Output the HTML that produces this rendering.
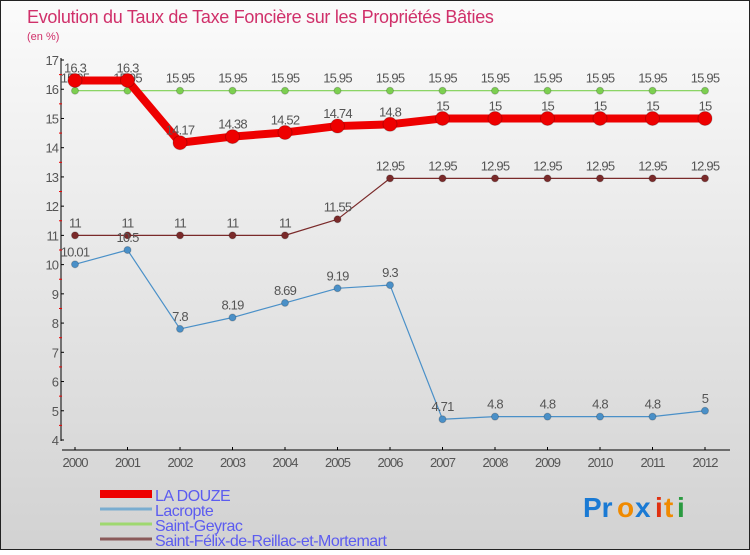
<!DOCTYPE html>
<html><head><meta charset="utf-8"><style>
html,body{margin:0;padding:0}
body{width:750px;height:550px;overflow:hidden;font-family:"Liberation Sans",sans-serif}
</style></head><body>
<svg id="chart" width="750" height="550" xmlns="http://www.w3.org/2000/svg">
<defs><linearGradient id="bg" x1="0" y1="0" x2="0" y2="1"><stop offset="0" stop-color="#fbfbfb"/><stop offset="1" stop-color="#d2d2d2"/></linearGradient></defs>
<rect x="0.5" y="0.5" width="749" height="549" fill="url(#bg)" stroke="#222"/>
<text x="27" y="23" font-size="18" fill="#d0306a" letter-spacing="-0.3">Evolution du Taux de Taxe Foncière sur les Propriétés Bâties</text>
<text x="27" y="40" font-size="11" fill="#d0306a">(en %)</text>
<g id="axes"></g><g id="series"></g><g id="legend"></g>
<g font-size="28" font-weight="bold" font-family="Liberation Sans, sans-serif">
<text x="583" y="517" fill="#1a7ad4">Pr</text><text x="617" y="517" fill="#f08a00">o</text><text x="635" y="517" fill="#1a7ad4">x</text><text x="655" y="517" fill="#e03010">i</text><text x="664" y="517" fill="#f08a00">t</text><text x="677" y="517" fill="#2a9a40">i</text>
</g>
</svg>
<script>
const years=[2000,2001,2002,2003,2004,2005,2006,2007,2008,2009,2010,2011,2012];
const laDouze=[16.3,16.3,14.17,14.38,14.52,14.74,14.8,15,15,15,15,15,15];
const lacropte=[10.01,10.5,7.8,8.19,8.69,9.19,9.3,4.71,4.8,4.8,4.8,4.8,5];
const saintGeyrac=[15.95,15.95,15.95,15.95,15.95,15.95,15.95,15.95,15.95,15.95,15.95,15.95,15.95];
const saintFelix=[11,11,11,11,11,11.55,12.95,12.95,12.95,12.95,12.95,12.95,12.95];
const yTicks=[4,5,6,7,8,9,10,11,12,13,14,15,16,17];
const seriesNames=["LA DOUZE","Lacropte","Saint-Geyrac","Saint-Félix-de-Reillac-et-Mortemart"];
const NS="http://www.w3.org/2000/svg";
const x=i=>75+i*52.5;
const y=v=>440-(v-4)*(380/13);
function mk(tag,attrs,parent,txt){const e=document.createElementNS(NS,tag);for(const k in attrs)e.setAttribute(k,attrs[k]);if(txt!==undefined)e.textContent=txt;parent.appendChild(e);return e;}
const axes=document.getElementById('axes');
let a=mk('line',{x1:61,y1:58,x2:61,y2:441,stroke:'#000','stroke-width':1},axes);


a=mk('line',{x1:62,y1:450,x2:730,y2:450,stroke:'#000','stroke-width':1},axes);


yTicks.forEach(t=>{
  mk('line',{x1:61,y1:y(t),x2:64,y2:y(t),stroke:'#000'},axes);
  if(t<17)mk('line',{x1:59,y1:y(t+0.5),x2:62,y2:y(t+0.5),stroke:'#e00'},axes);
  const l=mk('text',{x:58,y:y(t)+5,'font-size':13,fill:'#555','text-anchor':'end','letter-spacing':'-1'},axes,t);
  
  
});
years.forEach((yr,i)=>{
  mk('line',{x1:x(i),y1:447,x2:x(i),y2:450,stroke:'#000'},axes);
  const l=mk('text',{x:x(i),y:467,'font-size':13,fill:'#555','text-anchor':'middle','letter-spacing':'-1'},axes,yr);
  
  
});
const sg=document.getElementById('series');
function draw(vals,name,color,w,r){
  const g=mk('g',{},sg);
  
  
  mk('polyline',{points:vals.map((v,i)=>x(i)+','+y(v)).join(' '),fill:'none',stroke:color,'stroke-width':w,'stroke-linejoin':'round'},g);
  vals.forEach((v,i)=>{
    const c=mk('circle',{cx:x(i),cy:y(v),r:r,fill:color,stroke:'#0003'},g);
    
    
    const t=mk('text',{x:x(i),y:y(v)-8,'font-size':13,fill:'#555','text-anchor':'middle','letter-spacing':'-0.8'},g,String(v));
    
    
  });
}
draw(saintFelix,'series-saint-felix','#7a2a2a',1.2,3.5);
draw(lacropte,'series-lacropte','#4a90c8',1.2,3.5);
draw(saintGeyrac,'series-saint-geyrac','#7ccf50',1.2,3.5);
draw(laDouze,'series-la-douze','#ee0000',8,7);
const lg=document.getElementById('legend');
const lcol=['#ee0000','#7aadd0','#9fd870','#8a5a5a'];const lw=[8,3,3,3];
seriesNames.forEach((n,i)=>{
  const yy=492+i*15;
  const g=mk('g',{},lg);
  
  
  mk('line',{x1:100,y1:yy+2,x2:152,y2:yy+2,stroke:lcol[i],'stroke-width':lw[i]},g);
  mk('text',{x:155,y:yy+9,'font-size':16,fill:'#5c5cf0','letter-spacing':'-0.5'},g,n);
});
</script>
</body></html>
